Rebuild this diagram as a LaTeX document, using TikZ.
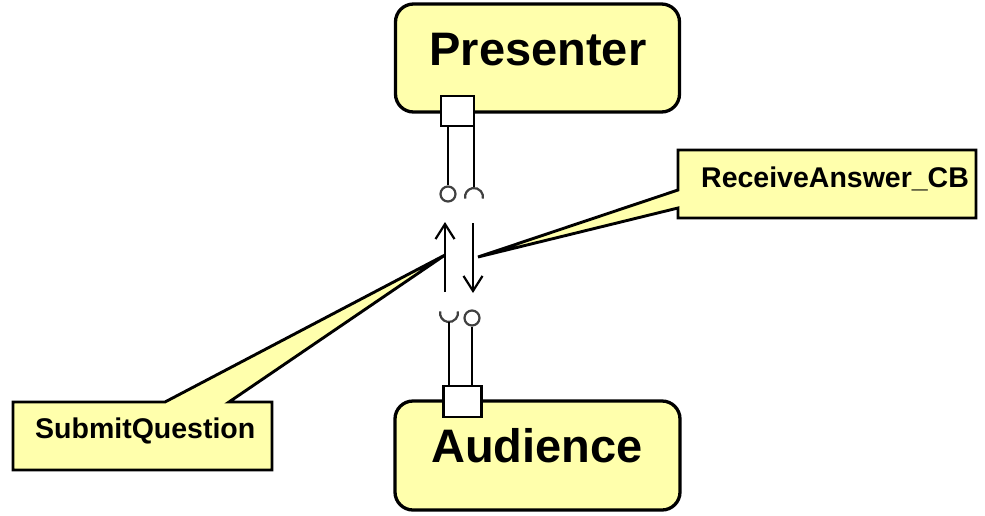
\documentclass[tikz,border=0pt]{standalone}
\usepackage{fontspec}
\setmainfont{Liberation Sans}
\usetikzlibrary{arrows.meta}
\definecolor{boxyellow}{RGB}{255,255,172}
\begin{document}
\begin{tikzpicture}[x=1pt,y=-1pt,
  actor/.style={draw=black,line width=3.3pt,fill=boxyellow,rounded corners=18pt,inner sep=0pt},
  port/.style={draw=black,line width=2.9pt,fill=white,inner sep=0pt},
  bigtext/.style={font=\fontsize{47}{50}\selectfont\bfseries,inner sep=0pt,anchor=base},
  notetext/.style={font=\fontsize{28.5}{30}\selectfont\bfseries,inner sep=0pt,anchor=base west},
  note/.style={draw=black,line width=2.9pt,fill=boxyellow,line join=miter},
  wire/.style={draw=black,line width=2.2pt},
  socket/.style={draw=black!75,line width=2.2pt},
  provided/.style={circle,draw=black!75,line width=2.2pt,minimum size=15pt,inner sep=0pt},
  flow/.style={draw=black,line width=2.2pt,-{Straight Barb[length=15pt,width=19pt,line width=2.2pt]}}]
\useasboundingbox (0,0) rectangle (985,515);

% callouts (drawn first, arrows go on top)
\coordinate (sqtip) at (445,255);
\coordinate (ratip) at (478,257);
\draw[note] (13,402) -- (165,402) -- (sqtip) -- (229,402) -- (272,402) -- (272,470) -- (13,470) -- cycle;
\node[notetext] (submitlabel) at (35,438) {SubmitQuestion};
\draw[note] (678,150) -- (976,150) -- (976,218) -- (678,218) -- (678,208) -- (ratip) -- (678,190) -- cycle;
\node[notetext] (receivelabel) at (701,187) {ReceiveAnswer\_CB};

% actors
\node[actor,minimum width=284pt,minimum height=108pt] (presenter) at (537.5,58) {};
\node[bigtext] (presenterlabel) at (538,65) {Presenter};
\node[actor,minimum width=285pt,minimum height=109pt] (audience) at (537.5,455.5) {};
\node[bigtext] (audiencelabel) at (537,462) {Audience};

% ports
\node[port,minimum width=33pt,minimum height=30pt] (pport) at (457.5,111) {};
\node[port,minimum width=38pt,minimum height=31pt] (aport) at (462.5,401.5) {};

% presenter side interfaces
\node[provided] (pprov) at (448,194) {};
\coordinate (preqc) at (474,197);
\draw[wire] (pport.south -| pprov) -- (pprov.north);
\draw[wire] (pport.south -| preqc) -- ([yshift=9pt]preqc);
\draw[socket] ([shift={(190:9pt)}]preqc) arc[start angle=190,end angle=-10,radius=9pt];

% audience side interfaces
\coordinate (areqc) at (449,313);
\node[provided] (aprov) at (472,318) {};
\draw[socket] ([shift={(170:9pt)}]areqc) arc[start angle=170,end angle=370,radius=9pt];
\draw[wire] ([yshift=-9pt]areqc) -- (aport.north -| areqc);
\draw[wire] (aprov.south) -- (aport.north -| aprov);

% flows
\coordinate (upbot) at (445,292);
\coordinate (uptop) at (445,222);
\coordinate (dntop) at (473,223);
\coordinate (dnbot) at (473,293);
\draw[flow] (upbot) -- (uptop);
\draw[flow] (dntop) -- (dnbot);
\end{tikzpicture}
\end{document}
